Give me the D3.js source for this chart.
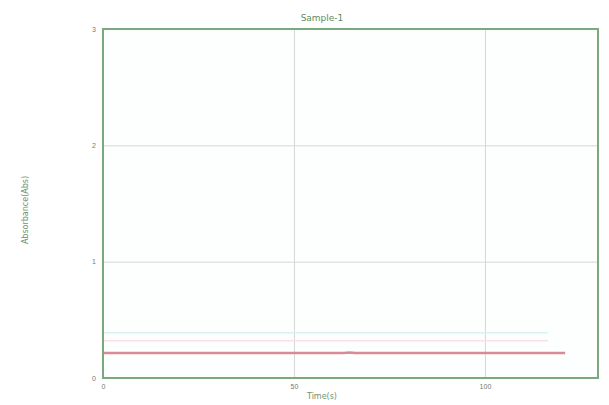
<!DOCTYPE html>
<html>
<head>
<meta charset="utf-8">
<script src="https://cdn.jsdelivr.net/npm/d3@7"></script>
<style>
  html, body { margin: 0; padding: 0; background: #fff; }
  svg { display: block; font-family: "DejaVu Sans", sans-serif; }
</style>
</head>
<body>
<svg id="chart" width="609" height="405"></svg>
<script>
// Absorbance trace for Sample-1
const title = "Sample-1";
const xLabel = "Time(s)";
const yLabel = "Absorbance(Abs)";

const xTicks = [0, 50, 100];
const yTicks = [0, 1, 2, 3];

const sampleTime = [0, 10, 20, 30, 40, 50, 60, 63, 64.5, 66, 70, 80, 90, 100, 110, 121];
const sampleAbs  = [0.215, 0.215, 0.215, 0.215, 0.215, 0.215, 0.215, 0.215, 0.22, 0.215, 0.215, 0.215, 0.215, 0.215, 0.215, 0.215];

const refTimeA = [0, 116.5];
const refAbsA  = [0.39, 0.39];
const refTimeB = [0, 116.5];
const refAbsB  = [0.32, 0.32];

const svg = d3.select("#chart");
const m = { left: 103, right: 11, top: 29, bottom: 27 };
const W = 609, H = 405;

const x = d3.scaleLinear().domain([0, 129.6]).range([m.left, W - m.right]);
const y = d3.scaleLinear().domain([0, 3]).range([H - m.bottom, m.top]);

// plot background
svg.append("rect")
  .attr("x", x(0)).attr("y", y(3))
  .attr("width", x(129.6) - x(0)).attr("height", y(0) - y(3))
  .attr("fill", "#fcfffd");

// grid
const grid = svg.append("g").attr("stroke", "#d6d6d6").attr("stroke-width", 1);
grid.selectAll("line.gx").data(xTicks.filter(d => d > 0)).join("line")
  .attr("x1", d => x(d) + 0.5).attr("x2", d => x(d) + 0.5)
  .attr("y1", y(3)).attr("y2", y(0));
grid.selectAll("line.gy").data(yTicks.filter(d => d > 0 && d < 3)).join("line")
  .attr("y1", d => y(d) + 0.5).attr("y2", d => y(d) + 0.5)
  .attr("x1", x(0)).attr("x2", x(129.6));

// faint reference traces
const line = d3.line().x(d => x(d[0])).y(d => y(d[1]));
svg.append("path")
  .datum(d3.zip(refTimeA, refAbsA))
  .attr("d", line).attr("fill", "none")
  .attr("stroke", "#d8f4f0").attr("stroke-width", 1.5);
svg.append("path")
  .datum(d3.zip(refTimeB, refAbsB))
  .attr("d", line).attr("fill", "none")
  .attr("stroke", "#fbe0e6").attr("stroke-width", 1.5);

// main trace
svg.append("path")
  .datum(d3.zip(sampleTime, sampleAbs))
  .attr("d", line).attr("fill", "none")
  .attr("stroke", "#d98a99").attr("stroke-width", 2.5);

// axes
const fmt = d3.format("d");
const xAxis = d3.axisBottom(x).tickValues(xTicks).tickFormat(fmt).tickSize(0).tickPadding(6);
const yAxis = d3.axisLeft(y).tickValues(yTicks).tickFormat(fmt).tickSize(0).tickPadding(7);
svg.append("g").attr("transform", `translate(0,${y(0)})`).call(xAxis)
  .call(g => g.select(".domain").remove())
  .selectAll("text").attr("font-size", 7).attr("fill", "#777");
svg.append("g").attr("transform", `translate(${x(0)},0)`).call(yAxis)
  .call(g => g.select(".domain").remove())
  .selectAll("text").attr("font-size", 7).attr("fill", "#777");

// frame
svg.append("rect")
  .attr("x", x(0)).attr("y", y(3))
  .attr("width", x(129.6) - x(0)).attr("height", y(0) - y(3))
  .attr("fill", "none").attr("stroke", "#79a97c").attr("stroke-width", 2);

// labels
svg.append("text").attr("x", 322).attr("y", 21)
  .attr("text-anchor", "middle").attr("font-size", 9)
  .attr("fill", "#5e8a62").text(title);
svg.append("text").attr("x", 322).attr("y", 399)
  .attr("text-anchor", "middle").attr("font-size", 8)
  .attr("fill", "#6f9272").text(xLabel);
svg.append("text")
  .attr("transform", "translate(28,210) rotate(-90)")
  .attr("text-anchor", "middle").attr("font-size", 8)
  .attr("fill", "#6f9272").text(yLabel);
</script>
</body>
</html>
